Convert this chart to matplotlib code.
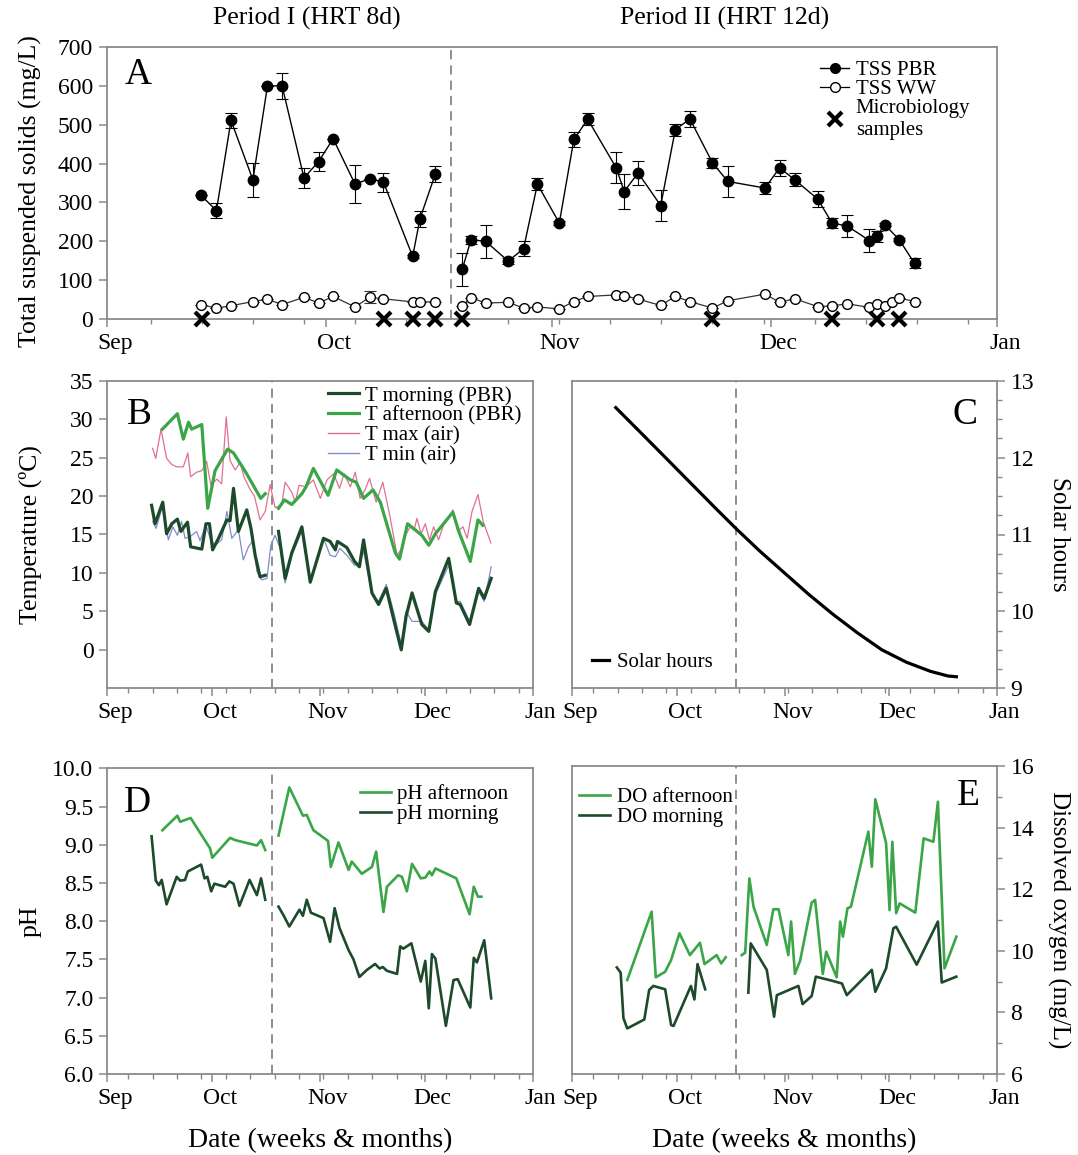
import numpy as np
import matplotlib
matplotlib.use('Agg')

import matplotlib.pyplot as plt
from matplotlib.lines import Line2D
from matplotlib.ticker import MultipleLocator, FormatStrFormatter
from matplotlib.transforms import ScaledTranslation

plt.rcParams['font.family'] = ['Liberation Serif', 'DejaVu Serif']

nan = np.nan

# x values are days counted from 1 September
month_days = [0, 30, 61, 91, 122]
month_names = ['Sep', 'Oct', 'Nov', 'Dec', 'Jan']
period_change = 47.2

# --- A: total suspended solids (mg/L)
tss_pbr_day = [12.9, 15.0, 17.0, 20.0, 22.0, 24.0, 27.0, 29.0, 31.0, 34.0, 36.0, 37.9, 41.9, 42.9, 45.0, nan,
               48.7, 49.9, 51.9, 55.0, 57.1, 59.0, 62.0, 64.0, 65.9, 69.8, 70.9, 72.8, 75.9, 77.9, 79.9,
               83.0, 85.1, 90.2, 92.2, 94.3, 97.4, 99.4, 101.5, 104.5, 105.5, 106.6, 108.6, 110.7]
tss_pbr = [318, 279, 511, 358, 600, 600, 363, 405, 464, 347, 361, 352, 161, 258, 373, nan,
           128, 204, 200, 149, 181, 347, 247, 462, 514, 389, 328, 376, 292, 487, 515,
           402, 354, 337, 389, 358, 309, 247, 239, 202, 213, 243, 204, 143]
tss_pbr_err = [0, 20, 20, 43, 0, 33, 26, 25, 0, 49, 0, 24, 4, 20, 21, nan,
               43, 10, 43, 8, 19, 15, 4, 20, 15, 40, 45, 31, 41, 15, 20,
               13, 39, 15, 20, 17, 21, 13, 28, 30, 14, 4, 4, 13]
tss_ww_day = [12.9, 15.0, 17.0, 20.0, 22.0, 24.0, 27.0, 29.0, 31.0, 34.0, 36.0, 37.9, 41.9, 42.9, 45.0, nan,
              48.7, 49.9, 51.9, 55.0, 57.1, 59.0, 62.0, 64.0, 65.9, 69.8, 70.9, 72.8, 75.9, 77.9, 79.9,
              83.0, 85.1, 90.2, 92.2, 94.3, 97.4, 99.4, 101.5, 104.5, 105.5, 106.6, 107.6, 108.6, 110.7]
tss_ww = [37, 28, 34, 45, 51, 37, 56, 41, 58, 31, 56, 52, 44, 44, 44, nan,
          34, 55, 41, 43, 28, 31, 26, 45, 58, 62, 60, 51, 35, 58, 45,
          28, 47, 64, 43, 52, 32, 34, 39, 30, 39, 34, 45, 54, 45]
tss_ww_err = [0, 0, 0, 0, 0, 0, 0, 0, 0, 0, 15, 0, 0, 0, 0, nan,
              0, 0, 0, 0, 0, 0, 0, 0, 0, 0, 0, 0, 0, 0, 0,
              0, 0, 0, 0, 0, 0, 0, 0, 0, 0, 0, 0, 0, 0]
micro_day = [13, 38, 42, 45, 48.7, 83, 99.4, 105.5, 108.6]

# --- B: temperature (C)
t_morn_day = [12.7, 13.7, 15.9, 17.0, 18.5, 20.1, 21.1, 23.0, 23.9, 27.1, 28.3, 29.3, 30.2, 31.9, 34.3,
              35.2, 36.2, 37.6, 40.0, 41.2, 42.4, 43.8, 45.3, nan,
              49.1, 51.0, 52.9, 55.8, 58.2, 62.0, 63.9, 65.4, 66.0, 68.7, 70.9, 72.3, 73.5, 75.9, 77.8,
              80.0, 82.6, 84.3, 85.7, 87.4, 90.2, 92.2, 94.1, 97.9, 100.1, 101.2, 103.9, 106.5, 108.1, 110.1]
t_morn = [18.8, 16.4, 19.2, 15.1, 16.4, 17.0, 15.4, 16.6, 13.4, 13.1, 16.4, 16.4, 13.0, 14.5, 16.9,
          16.8, 21.0, 15.4, 18.2, 15.8, 12.3, 9.5, 9.7, nan,
          15.4, 9.3, 12.6, 16.0, 8.8, 14.5, 14.1, 13.0, 14.1, 13.3, 11.5, 10.8, 14.3, 7.4, 5.9,
          8.0, 3.1, 0.0, 4.4, 7.4, 3.3, 2.4, 7.6, 11.9, 6.1, 5.9, 3.3, 8.0, 6.7, 9.3]
t_aft_day = [15.8, 20.1, 21.8, 23.3, 24.2, 27.1, 28.8, 30.9, 34.5, 36.2, 39.7, 44.0, 45.3, nan,
             49.1, 50.8, 52.9, 55.8, 57.0, 59.1, 63.3, 65.8, 69.7, 71.4, 73.5, 76.2, 78.3, 82.6, 83.8,
             86.1, 90.2, 92.2, 94.1, 99.1, 100.8, 104.1, 106.3, 107.7]
t_aft = [28.7, 30.7, 27.4, 29.6, 28.7, 29.3, 18.4, 23.3, 26.1, 25.6, 23.1, 19.7, 20.3, nan,
         18.4, 19.5, 18.9, 20.3, 21.2, 23.6, 20.1, 23.4, 22.1, 21.8, 19.7, 20.8, 19.2, 12.6, 11.8,
         16.4, 14.9, 13.6, 15.1, 17.9, 15.4, 11.5, 16.9, 16.2]
tmax_day = [13.0, 13.9, 15.4, 17.0, 18.5, 19.9, 21.8, 23.1, 23.9, 25.6, 27.1, 28.5, 29.7, 31.4, 32.8,
            34.1, 35.2, 36.7, 38.1, 39.2, 41.0, 42.2, 43.8, 45.3, 46.7, 48.1, 50.0, 51.0, 52.9, 53.9,
            55.0, 57.0, 59.1, 61.1, 63.0, 64.9, 66.6, 67.9, 69.7, 71.1, 72.5, 73.9, 75.2, 77.1, 79.0,
            81.0, 83.1, 84.7, 85.5, 86.9, 88.0, 88.8, 90.0, 91.2, 92.4, 93.6, 95.0, 96.4, 97.9, 99.1,
            100.5, 102.0, 103.2, 104.6, 106.3, 107.8, 110.0]
tmax = [26.2, 24.9, 28.7, 24.9, 24.1, 23.8, 23.8, 25.6, 22.5, 23.1, 23.3, 24.5, 21.4, 22.2, 21.6,
        30.3, 24.6, 23.4, 24.4, 22.5, 20.8, 20.0, 16.9, 18.0, 21.5, 18.5, 18.8, 21.8, 20.5, 19.2,
        21.4, 21.2, 22.1, 19.7, 22.1, 22.9, 21.0, 22.9, 21.2, 23.1, 19.7, 20.8, 22.3, 19.2, 21.8,
        17.5, 12.3, 13.3, 14.9, 16.0, 15.6, 17.1, 15.1, 16.4, 14.3, 16.0, 14.3, 16.2, 17.1, 18.2,
        15.4, 16.0, 14.5, 18.0, 20.2, 16.7, 13.9]
tmin_day = [13.0, 14.0, 15.9, 17.5, 18.8, 20.1, 21.3, 22.3, 23.7, 25.6, 26.6, 28.3, 29.5, 30.9, 32.8,
            34.3, 35.7, 37.6, 39.0, 40.5, 41.9, 42.9, 44.3, 45.8, 46.9, 48.1, 49.6, 51.0, 52.9, 55.8,
            58.2, 62.0, 63.9, 65.4, 66.7, 68.7, 70.9, 72.3, 73.5, 75.9, 77.8, 80.0, 82.1, 84.3, 85.7,
            87.4, 90.2, 92.2, 94.1, 97.9, 100.1, 101.2, 103.9, 106.5, 108.1, 110.1]
tmin = [16.7, 15.8, 18.8, 14.3, 16.0, 14.9, 16.7, 14.5, 14.7, 15.4, 14.2, 16.2, 14.5, 13.6, 14.3,
        18.0, 14.5, 15.6, 11.7, 13.4, 14.3, 10.2, 9.1, 9.3, 13.6, 14.9, 13.2, 8.7, 12.3, 15.4,
        8.7, 14.5, 12.3, 12.1, 13.2, 12.3, 11.0, 11.3, 12.8, 7.2, 6.3, 8.5, 5.0, 0.7, 5.0,
        3.7, 3.7, 2.6, 7.2, 11.0, 6.3, 6.3, 3.7, 7.6, 6.3, 10.8]

# --- C: solar hours
solar_day = [12.5, 20, 27, 34, 41, 47, 54, 61, 68, 75, 82, 89, 96, 103, 108, 110.4]
solar_h = [12.65, 12.31, 11.99, 11.67, 11.35, 11.08, 10.78, 10.50, 10.22, 9.96, 9.72, 9.50, 9.34, 9.22, 9.16, 9.15]

# --- D: pH
ph_aft_day = [15.8, 20.1, 20.9, 23.9, 29.5, 30.1, 35.2, 36.7, 42.9, 44.1, 45.3, nan,
              49.1, 52.2, 56.1, 57.2, 59.1, 63.3, 64.1, 66.3, 69.2, 70.1, 73.0, 75.9, 77.1, 79.2, 80.2,
              83.4, 84.5, 85.9, 87.4, 89.9, 91.2, 92.4, 93.1, 94.1, 100.1, 103.9, 105.1, 106.3, 107.3]
ph_aft = [9.19, 9.38, 9.30, 9.35, 8.95, 8.83, 9.09, 9.06, 8.99, 9.06, 8.93, nan,
          9.12, 9.75, 9.38, 9.39, 9.19, 9.05, 8.71, 9.03, 8.67, 8.78, 8.62, 8.71, 8.91, 8.12, 8.45,
          8.60, 8.58, 8.39, 8.75, 8.56, 8.57, 8.65, 8.60, 8.69, 8.56, 8.09, 8.45, 8.32, 8.32]
ph_morn_day = [12.7, 13.9, 14.8, 15.6, 17.0, 19.9, 20.9, 22.3, 23.1, 26.9, 27.9, 28.7, 29.8, 30.7, 33.8,
               35.0, 36.2, 37.9, 40.8, 42.9, 44.1, 45.3, nan,
               49.1, 50.5, 52.2, 55.1, 56.1, 57.2, 58.4, 62.0, 63.9, 65.2, 66.6, 69.2, 70.6, 72.3, 74.4,
               76.8, 78.1, 79.0, 80.2, 83.1, 84.0, 84.9, 87.2, 89.9, 91.2, 92.2, 93.1, 94.1, 97.1, 99.3,
               100.5, 104.1, 105.1, 106.0, 108.1, 110.1]
ph_morn = [9.11, 8.53, 8.47, 8.54, 8.22, 8.58, 8.53, 8.54, 8.65, 8.74, 8.56, 8.58, 8.39, 8.49, 8.45,
           8.52, 8.49, 8.20, 8.54, 8.34, 8.56, 8.28, nan,
           8.19, 8.08, 7.93, 8.15, 8.07, 8.28, 8.11, 8.04, 7.73, 8.17, 7.91, 7.62, 7.50, 7.27, 7.36,
           7.44, 7.38, 7.40, 7.35, 7.31, 7.67, 7.64, 7.71, 7.21, 7.48, 6.86, 7.57, 7.51, 6.63, 7.23,
           7.24, 6.87, 7.52, 7.46, 7.75, 6.99]

# --- E: dissolved oxygen (mg/L)
do_aft_day = [15.8, 22.8, 24.0, 26.7, 28.4, 30.8, 33.8, 36.7, 38.0, 41.5, 42.8, 44.1, nan,
              48.7, 49.7, 50.9, 52.1, 55.9, 57.8, 59.3, 62.1, 62.9, 64.0, 65.5, 68.8, 69.8, 72.0, 73.0,
              76.0, 77.0, 77.8, 79.1, 80.1, 85.1, 86.1, 87.1, 90.2, 91.2, 92.0, 93.1, 94.1, 98.6,
              101.0, 103.8, 105.1, 107.0, 110.4]
do_aft = [9.05, 11.27, 9.14, 9.32, 9.70, 10.57, 9.86, 10.26, 9.57, 9.86, 9.59, 9.79, nan,
          9.86, 9.94, 12.35, 11.43, 10.19, 11.35, 11.35, 9.86, 10.95, 9.25, 9.68, 11.56, 11.65, 9.25, 9.97,
          9.14, 10.95, 10.46, 11.38, 11.43, 13.87, 12.73, 14.92, 13.50, 11.32, 13.54, 11.22, 11.54, 11.24,
          13.65, 13.54, 14.84, 9.43, 10.46]
do_morn_day = [12.8, 13.9, 14.7, 15.8, 20.7, 22.1, 23.3, 26.7, 28.4, 29.1, 34.1, 35.1, 36.0, 38.2, nan,
               50.6, 51.3, 55.9, 58.0, 58.8, 65.0, 66.2, 68.8, 70.0, 74.6, 77.5, 78.9, 86.1, 87.1,
               90.2, 92.3, 93.1, 99.0, 105.1, 106.2, 110.4]
do_morn = [9.46, 9.29, 7.81, 7.48, 7.77, 8.73, 8.86, 8.75, 7.59, 7.56, 8.86, 8.42, 9.57, 8.75, nan,
           8.64, 10.24, 9.38, 7.86, 8.56, 8.86, 8.27, 8.53, 9.16, 9.03, 8.94, 8.56, 9.38, 8.67,
           9.43, 10.73, 10.78, 9.55, 10.95, 8.97, 9.16]

DARK = '#1c4a2a'
LIGHT = '#3aa647'
PINK = '#e0718f'
BLUE = '#7f8ccc'
SPINE = '#8a8a8a'

W, H = 1078, 1155
fig = plt.figure(figsize=(W / 100, H / 100), dpi=100)


def px_axes(l, t, r, b):
    return fig.add_axes([l / W, 1 - b / H, (r - l) / W, (b - t) / H])


def style(ax, right=False):
    ax.set_xlim(0, 122)
    ax.set_xticks(month_days)
    ax.set_xticklabels(month_names)
    ax.set_xticks(np.arange(6, 122, 7), minor=True)
    for sp in ax.spines.values():
        sp.set_color(SPINE)
        sp.set_linewidth(1.3)
    ax.tick_params(which='both', colors=SPINE, labelcolor='k', labelsize=17, direction='out')
    ax.tick_params(which='major', length=6, width=1.1, pad=4)
    ax.tick_params(which='minor', length=3.5, width=1.0)
    if right:
        ax.yaxis.tick_right()
        ax.yaxis.set_label_position('right')
    shift = ScaledTranslation(0.08, 0, fig.dpi_scale_trans)
    for lab in ax.get_xticklabels():
        lab.set_transform(lab.get_transform() + shift)
    ax.axvline(period_change, color='#707070', ls=(0, (6, 4)), lw=1.1, zorder=1)


def small_legend(ax, handles, labels, **kw):
    opts = dict(frameon=False, fontsize=15, handlelength=1.5, handletextpad=0.3,
                labelspacing=0.02, borderpad=0.2)
    opts.update(kw)
    ax.legend(handles, labels, **opts)


# ---------------- A
axA = px_axes(107, 47, 997, 319)
style(axA)
axA.set_ylim(0, 700)
axA.set_yticks(np.arange(0, 701, 100))
axA.errorbar(tss_pbr_day, tss_pbr, yerr=tss_pbr_err, fmt='-o', color='k', mfc='k', mec='k',
             ms=7.5, lw=1.0, elinewidth=0.8, capsize=4, capthick=0.8, zorder=3)
axA.errorbar(tss_ww_day, tss_ww, yerr=tss_ww_err, fmt='-o', color='#333333', mfc='white', mec='k',
             ms=7, lw=0.9, elinewidth=0.8, capsize=4, capthick=0.8, zorder=3)
axA.plot(micro_day, np.zeros(len(micro_day)), 'x', color='k', ms=10, mew=3, clip_on=False, zorder=5)
axA.set_ylabel('Total suspended solids (mg/L)', fontsize=18.5)
axA.yaxis.set_label_coords(-0.073, 0.47)
axA.text(0.02, 0.96, 'A', transform=axA.transAxes, fontsize=27, va='top', ha='left')
handlesA = [Line2D([], [], color='k', marker='o', ms=7, lw=1.0),
            Line2D([], [], color='k', marker='o', mfc='white', ms=7, lw=0.9),
            Line2D([], [], color='k', marker='x', ms=10, mew=3, lw=0)]
small_legend(axA, handlesA, ['TSS PBR', 'TSS WW', 'Microbiology\nsamples'], loc='upper left',
             bbox_to_anchor=(0.785, 1.005), handlelength=1.4, labelspacing=0.0)
fig.text(307 / W, 1 - 18 / H, 'Period I (HRT 8d)', fontsize=18.5, ha='center', va='center')
fig.text(725 / W, 1 - 18 / H, 'Period II (HRT 12d)', fontsize=18.5, ha='center', va='center')

# ---------------- B
axB = px_axes(107.3, 380.7, 532.7, 688.3)
style(axB)
axB.set_ylim(-5, 35)
axB.set_yticks(np.arange(0, 36, 5))
axB.plot(tmax_day, tmax, color=PINK, lw=0.9, zorder=2)
axB.plot(tmin_day, tmin, color=BLUE, lw=0.9, zorder=2)
axB.plot(t_aft_day, t_aft, color=LIGHT, lw=2.3, zorder=3)
axB.plot(t_morn_day, t_morn, color=DARK, lw=2.3, zorder=3)
axB.set_ylabel('Temperature (ºC)', fontsize=18.5)
axB.yaxis.set_label_coords(-0.1535, 0.5)
axB.text(0.045, 0.945, 'B', transform=axB.transAxes, fontsize=27, va='top', ha='left')
handlesB = [Line2D([], [], color=DARK, lw=2.3), Line2D([], [], color=LIGHT, lw=2.3),
            Line2D([], [], color=PINK, lw=1.0), Line2D([], [], color=BLUE, lw=1.0)]
small_legend(axB, handlesB, ['T morning (PBR)', 'T afternoon (PBR)', 'T max (air)', 'T min (air)'],
             loc='upper left', bbox_to_anchor=(0.484, 1.03))

# ---------------- C
axC = px_axes(572.3, 380.7, 996.7, 688.3)
style(axC, right=True)
axC.set_ylim(9, 13)
axC.set_yticks([9, 10, 11, 12, 13])
axC.yaxis.set_minor_locator(MultipleLocator(0.25))
axC.plot(solar_day, solar_h, color='k', lw=2.3)
axC.set_ylabel('Solar hours', fontsize=18, rotation=270, va='bottom')
axC.yaxis.set_label_coords(1.121, 0.5)
axC.text(0.955, 0.945, 'C', transform=axC.transAxes, fontsize=27, va='top', ha='right')
small_legend(axC, [Line2D([], [], color='k', lw=2.3)], ['Solar hours'], loc='lower left',
             bbox_to_anchor=(0.013, 0.004), handlelength=0.8, handletextpad=0.4)

# ---------------- D
axD = px_axes(107.3, 768.3, 532.7, 1074)
style(axD)
axD.set_ylim(6, 10)
axD.set_yticks(np.arange(6, 10.01, 0.5))
axD.yaxis.set_major_formatter(FormatStrFormatter('%.1f'))
axD.plot(ph_aft_day, ph_aft, color=LIGHT, lw=1.9)
axD.plot(ph_morn_day, ph_morn, color=DARK, lw=1.9)
axD.set_ylabel('pH', fontsize=18.5)
axD.yaxis.set_label_coords(-0.1535, 0.5)
axD.set_xlabel('Date (weeks & months)', fontsize=20, labelpad=14)
axD.text(0.04, 0.945, 'D', transform=axD.transAxes, fontsize=27, va='top', ha='left')
small_legend(axD, [Line2D([], [], color=LIGHT, lw=1.9), Line2D([], [], color=DARK, lw=1.9)],
             ['pH afternoon', 'pH morning'], loc='upper left', bbox_to_anchor=(0.559, 0.995))

# ---------------- E
axE = px_axes(572.3, 766, 996.7, 1074)
style(axE, right=True)
axE.set_ylim(6, 16)
axE.set_yticks([6, 8, 10, 12, 14, 16])
axE.yaxis.set_minor_locator(MultipleLocator(1))
axE.plot(do_aft_day, do_aft, color=LIGHT, lw=1.9)
axE.plot(do_morn_day, do_morn, color=DARK, lw=1.9)
axE.set_ylabel('Dissolved oxygen (mg/L)', fontsize=18, rotation=270, va='bottom')
axE.yaxis.set_label_coords(1.119, 0.5)
axE.set_xlabel('Date (weeks & months)', fontsize=20, labelpad=14)
axE.text(0.96, 0.96, 'E', transform=axE.transAxes, fontsize=27, va='top', ha='right')
small_legend(axE, [Line2D([], [], color=LIGHT, lw=1.9), Line2D([], [], color=DARK, lw=1.9)],
             ['DO afternoon', 'DO morning'], loc='upper left', bbox_to_anchor=(-0.018, 0.978))

fig.savefig('out.png', dpi=100)
